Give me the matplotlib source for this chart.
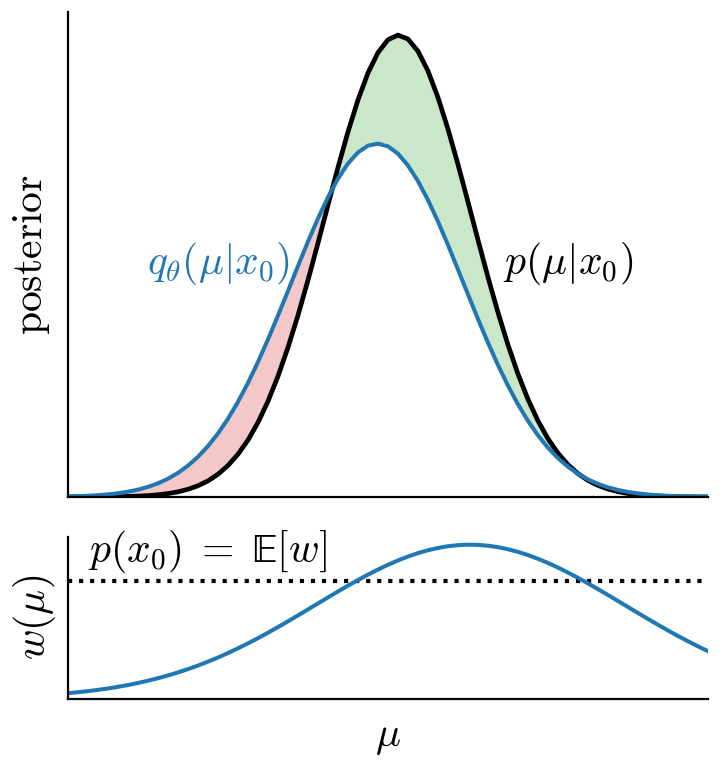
import numpy as np
import matplotlib
matplotlib.use("Agg")
import matplotlib.pyplot as plt

plt.rcParams['mathtext.fontset'] = 'cm'
plt.rcParams['font.family'] = ['DejaVu Sans']

# mu grid (step 0.125 from -4 to 4)
mu = np.linspace(-4.0, 4.0, 65)

# true posterior p(mu|x0) (peak = 1)
p_post = [0.0000, 0.0001, 0.0001, 0.0002, 0.0004, 0.0007, 0.0012, 0.0019,
          0.0030, 0.0048, 0.0074, 0.0112, 0.0167, 0.0244, 0.0349, 0.0493,
          0.0682, 0.0926, 0.1233, 0.1614, 0.2074, 0.2616, 0.3240, 0.3935,
          0.4696, 0.5499, 0.6322, 0.7136, 0.7906, 0.8598, 0.9181, 0.9622,
          0.9900, 1.0000, 0.9915, 0.9651, 0.9222, 0.8649, 0.7964, 0.7199,
          0.6388, 0.5564, 0.4758, 0.3994, 0.3292, 0.2662, 0.2114, 0.1648,
          0.1261, 0.0948, 0.0699, 0.0506, 0.0359, 0.0251, 0.0172, 0.0115,
          0.0076, 0.0049, 0.0031, 0.0020, 0.0012, 0.0007, 0.0004, 0.0002,
          0.0001]

# approximate posterior q_theta(mu|x0)
q_post = [0.0012, 0.0018, 0.0027, 0.0039, 0.0057, 0.0081, 0.0115, 0.0159,
          0.0219, 0.0296, 0.0396, 0.0522, 0.0679, 0.0871, 0.1102, 0.1376,
          0.1695, 0.2060, 0.2471, 0.2924, 0.3412, 0.3929, 0.4463, 0.5002,
          0.5530, 0.6032, 0.6492, 0.6892, 0.7219, 0.7460, 0.7606, 0.7650,
          0.7591, 0.7431, 0.7177, 0.6838, 0.6429, 0.5962, 0.5454, 0.4924,
          0.4385, 0.3853, 0.3339, 0.2856, 0.2410, 0.2005, 0.1647, 0.1334,
          0.1066, 0.0841, 0.0654, 0.0502, 0.0380, 0.0284, 0.0209, 0.0152,
          0.0109, 0.0077, 0.0054, 0.0037, 0.0025, 0.0017, 0.0011, 0.0007,
          0.0005]

# weights w(mu), lower panel
w_vals = [0.0346, 0.0408, 0.0480, 0.0561, 0.0654, 0.0759, 0.0877, 0.1009,
          0.1156, 0.1319, 0.1499, 0.1696, 0.1911, 0.2144, 0.2396, 0.2667,
          0.2956, 0.3263, 0.3585, 0.3925, 0.4278, 0.4643, 0.5019, 0.5402,
          0.5791, 0.6183, 0.6573, 0.6959, 0.7337, 0.7702, 0.8053, 0.8385,
          0.8694, 0.8977, 0.9231, 0.9453, 0.9640, 0.9789, 0.9900, 0.9970,
          0.9999, 0.9987, 0.9933, 0.9838, 0.9704, 0.9532, 0.9324, 0.9083,
          0.8811, 0.8511, 0.8188, 0.7845, 0.7484, 0.7111, 0.6728, 0.6339,
          0.5948, 0.5558, 0.5172, 0.4793, 0.4422, 0.4064, 0.3720, 0.3390,
          0.3077]
w_mean = 0.767

p_post = np.array(p_post)
q_post = np.array(q_post)
w_vals = np.array(w_vals)

W, H = 721, 763
fig = plt.figure(figsize=(W / 100, H / 100), dpi=100)
ax1 = fig.add_axes([68 / W, (H - 497) / H, 640 / W, 485 / H])
ax2 = fig.add_axes([68 / W, (H - 698.5) / H, 640 / W, 161.5 / H])

for ax in (ax1, ax2):
    ax.spines['top'].set_visible(False)
    ax.spines['right'].set_visible(False)
    ax.spines['left'].set_linewidth(1.6)
    ax.spines['bottom'].set_linewidth(1.6)
    ax.set_xticks([])
    ax.set_yticks([])
    ax.set_xlim(-4, 4)
    ax.set_ylim(0, 1.05)

# top panel
ax1.fill_between(mu, p_post, q_post, where=p_post >= q_post, interpolate=True,
                 color='tab:green', alpha=0.25, lw=0)
ax1.fill_between(mu, p_post, q_post, where=q_post >= p_post, interpolate=True,
                 color='tab:red', alpha=0.25, lw=0)
ax1.plot(mu, p_post, color='black', lw=3.4, solid_joinstyle='round')
ax1.plot(mu, q_post, color='tab:blue', lw=2.9, solid_joinstyle='round')
ax1.text(-1.23, 0.505, r'$q_\theta(\mu|x_0)$', color='tab:blue', fontsize=30,
         ha='right', va='center')
ax1.text(1.44, 0.505, r'$p(\mu|x_0)$', color='black', fontsize=30,
         ha='left', va='center')
ax1.set_ylabel(r'$\mathrm{posterior}$', fontsize=30)
ax1.yaxis.set_label_coords(-0.025, 0.5)

# bottom panel
ax2.axhline(w_mean, color='black', ls=':', lw=3)
ax2.plot(mu, w_vals, color='tab:blue', lw=2.9, solid_joinstyle='round')
ax2.text(-3.75, 0.80, r'$p(x_0)\;=\;\mathrm{\mathbb{E}}[w]$', fontsize=30,
         ha='left', va='bottom')
ax2.set_ylabel(r'$w(\mu)$', fontsize=30)
ax2.yaxis.set_label_coords(-0.016, 0.5)
ax2.set_xlabel(r'$\mu$', fontsize=30, labelpad=12)

fig.savefig('out.png', dpi=100)
